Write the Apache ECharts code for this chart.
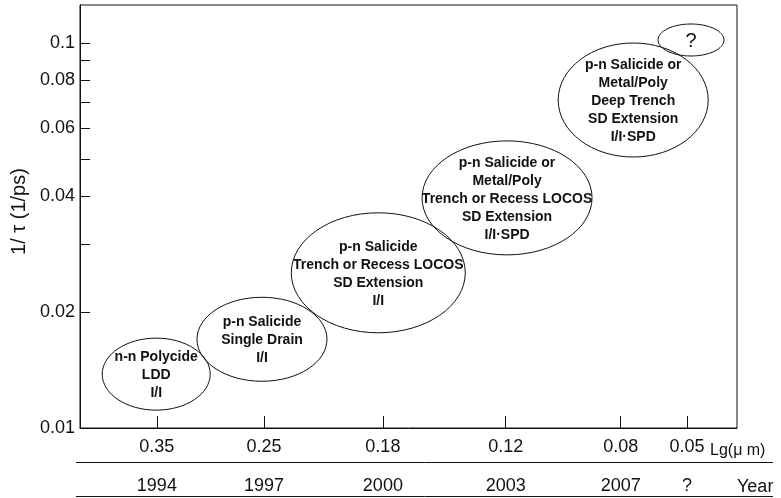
<!DOCTYPE html>
<html>
<head>
<meta charset="utf-8">
<script src="https://cdn.jsdelivr.net/npm/echarts@6/dist/echarts.min.js"></script>
<style>
  html, body { margin: 0; padding: 0; background: #fff; }
  #chart { width: 781px; height: 498px; }
</style>
</head>
<body>
<div id="chart"></div>
<script>
// Technology generations along the roadmap axis (0–100 scale)
const nodePos = [11.7, 28.0, 46.1, 64.8, 82.3, 92.4];
const gateLengths = ['0.35', '0.25', '0.18', '0.12', '0.08', '0.05'];
const years = ['1994', '1997', '2000', '2003', '2007', '?'];

// Speed axis ticks, 1/tau in 1/ps
const yLabelValues = [0.01, 0.02, 0.04, 0.06, 0.08, 0.1];
const yTickValues = [0.01, 0.02, 0.03, 0.04, 0.05, 0.06, 0.07, 0.08, 0.09, 0.1];

// Process technology of each generation
const stageX = [11.6, 27.7, 45.4, 65.0, 84.2, 93.0];
const stageSpeed = [0.0138, 0.0170, 0.0253, 0.0396, 0.0711, 0.1018];
const stageText = [
  'n-n Polycide\nLDD\nI/I',
  'p-n Salicide\nSingle Drain\nI/I',
  'p-n Salicide\nTrench or Recess LOCOS\nSD Extension\nI/I',
  'p-n Salicide or\nMetal/Poly\nTrench or Recess LOCOS\nSD Extension\nI/I\u00b7SPD',
  'p-n Salicide or\nMetal/Poly\nDeep Trench\nSD Extension\nI/I\u00b7SPD',
  '?'
];

// Bubble radii in pixels (rx, ry)
const bubbleRadii = [[54, 36], [65, 42], [87, 60], [85, 57], [75, 57], [33, 16]];

const FONT = '"Liberation Sans", Arial, Helvetica, sans-serif';
const INK = '#111';

function nearestIndex(v) {
  let best = 0;
  for (let i = 1; i < nodePos.length; i++) {
    if (Math.abs(nodePos[i] - v) < Math.abs(nodePos[best] - v)) best = i;
  }
  return best;
}

const chart = echarts.init(document.getElementById('chart'), null, { renderer: 'canvas' });

const option = {
  animation: false,
  backgroundColor: '#fff',
  grid: {
    left: 80, right: 44, top: 5, bottom: 70,
    outerBoundsMode: 'none', containLabel: false,
    show: true, borderColor: INK, borderWidth: 1, backgroundColor: 'transparent'
  },
  xAxis: [
    {
      type: 'value', min: 0, max: 100, position: 'bottom',
      splitLine: { show: false },
      axisLine: { show: true, lineStyle: { color: INK, width: 1 } },
      axisTick: { show: true, inside: true, length: 12, customValues: nodePos,
                  lineStyle: { color: INK, width: 1 } },
      axisLabel: {
        show: true, customValues: nodePos, margin: 10,
        fontFamily: FONT, fontSize: 18, color: INK,
        formatter: v => gateLengths[nearestIndex(v)]
      }
    },
    {
      type: 'value', min: 0, max: 100, position: 'bottom', offset: 40,
      splitLine: { show: false },
      axisLine: { show: false },
      axisTick: { show: false },
      axisLabel: {
        show: true, customValues: nodePos, margin: 9,
        fontFamily: FONT, fontSize: 18, color: INK,
        formatter: v => years[nearestIndex(v)]
      }
    }
  ],
  yAxis: {
    type: 'log', logBase: 10, min: 0.01, max: 0.1255,
    name: '1/ \u03c4 (1/ps)', nameLocation: 'middle', nameRotate: 90, nameGap: 48,
    nameTextStyle: { fontFamily: FONT, fontSize: 20, color: INK, padding: [0, 0, 0, 10] },
    splitLine: { show: false },
    minorTick: { show: false },
    axisLine: { show: true, lineStyle: { color: INK, width: 1 } },
    axisTick: { show: true, inside: true, length: 10, customValues: yTickValues,
                lineStyle: { color: INK, width: 1 } },
    axisLabel: {
      show: true, customValues: yLabelValues, margin: 5,
      fontFamily: FONT, fontSize: 18, color: INK,
      formatter: v => String(+(+v).toPrecision(3))
    }
  },
  series: [
    {
      type: 'custom',
      coordinateSystem: 'cartesian2d',
      xAxisIndex: 0,
      clip: false,
      silent: true,
      data: stageX.map((x, i) => [x, stageSpeed[i]]),
      renderItem: function (params, api) {
        const i = params.dataIndex;
        const c = api.coord([api.value(0), api.value(1)]);
        const r = bubbleRadii[i];
        const isQuestion = stageText[i] === '?';
        return {
          type: 'group',
          children: [
            {
              type: 'ellipse',
              shape: { cx: c[0], cy: c[1], rx: r[0], ry: r[1] },
              style: { fill: null, stroke: INK, lineWidth: 1 }
            },
            {
              type: 'text',
              x: c[0], y: c[1] + 1,
              style: {
                text: stageText[i],
                align: 'center', verticalAlign: 'middle',
                fontFamily: FONT,
                fontSize: isQuestion ? 20 : 14,
                fontWeight: isQuestion ? 'normal' : 'bold',
                lineHeight: 18,
                fill: INK
              }
            }
          ]
        };
      }
    }
  ],
  graphic: [
    { type: 'line', shape: { x1: 76, y1: 462.5, x2: 773, y2: 462.5 },
      style: { stroke: INK, lineWidth: 1 } },
    { type: 'line', shape: { x1: 76, y1: 496.5, x2: 773, y2: 496.5 },
      style: { stroke: INK, lineWidth: 1 } },
    { type: 'text', x: 710, y: 451,
      style: { text: 'Lg(\u03bc m)', fontFamily: FONT, fontSize: 16, fill: INK,
               verticalAlign: 'middle', align: 'left' } },
    { type: 'text', x: 737, y: 487,
      style: { text: 'Year', fontFamily: FONT, fontSize: 18, fill: INK,
               verticalAlign: 'middle', align: 'left' } }
  ]
};

chart.setOption(option);
</script>
</body>
</html>
